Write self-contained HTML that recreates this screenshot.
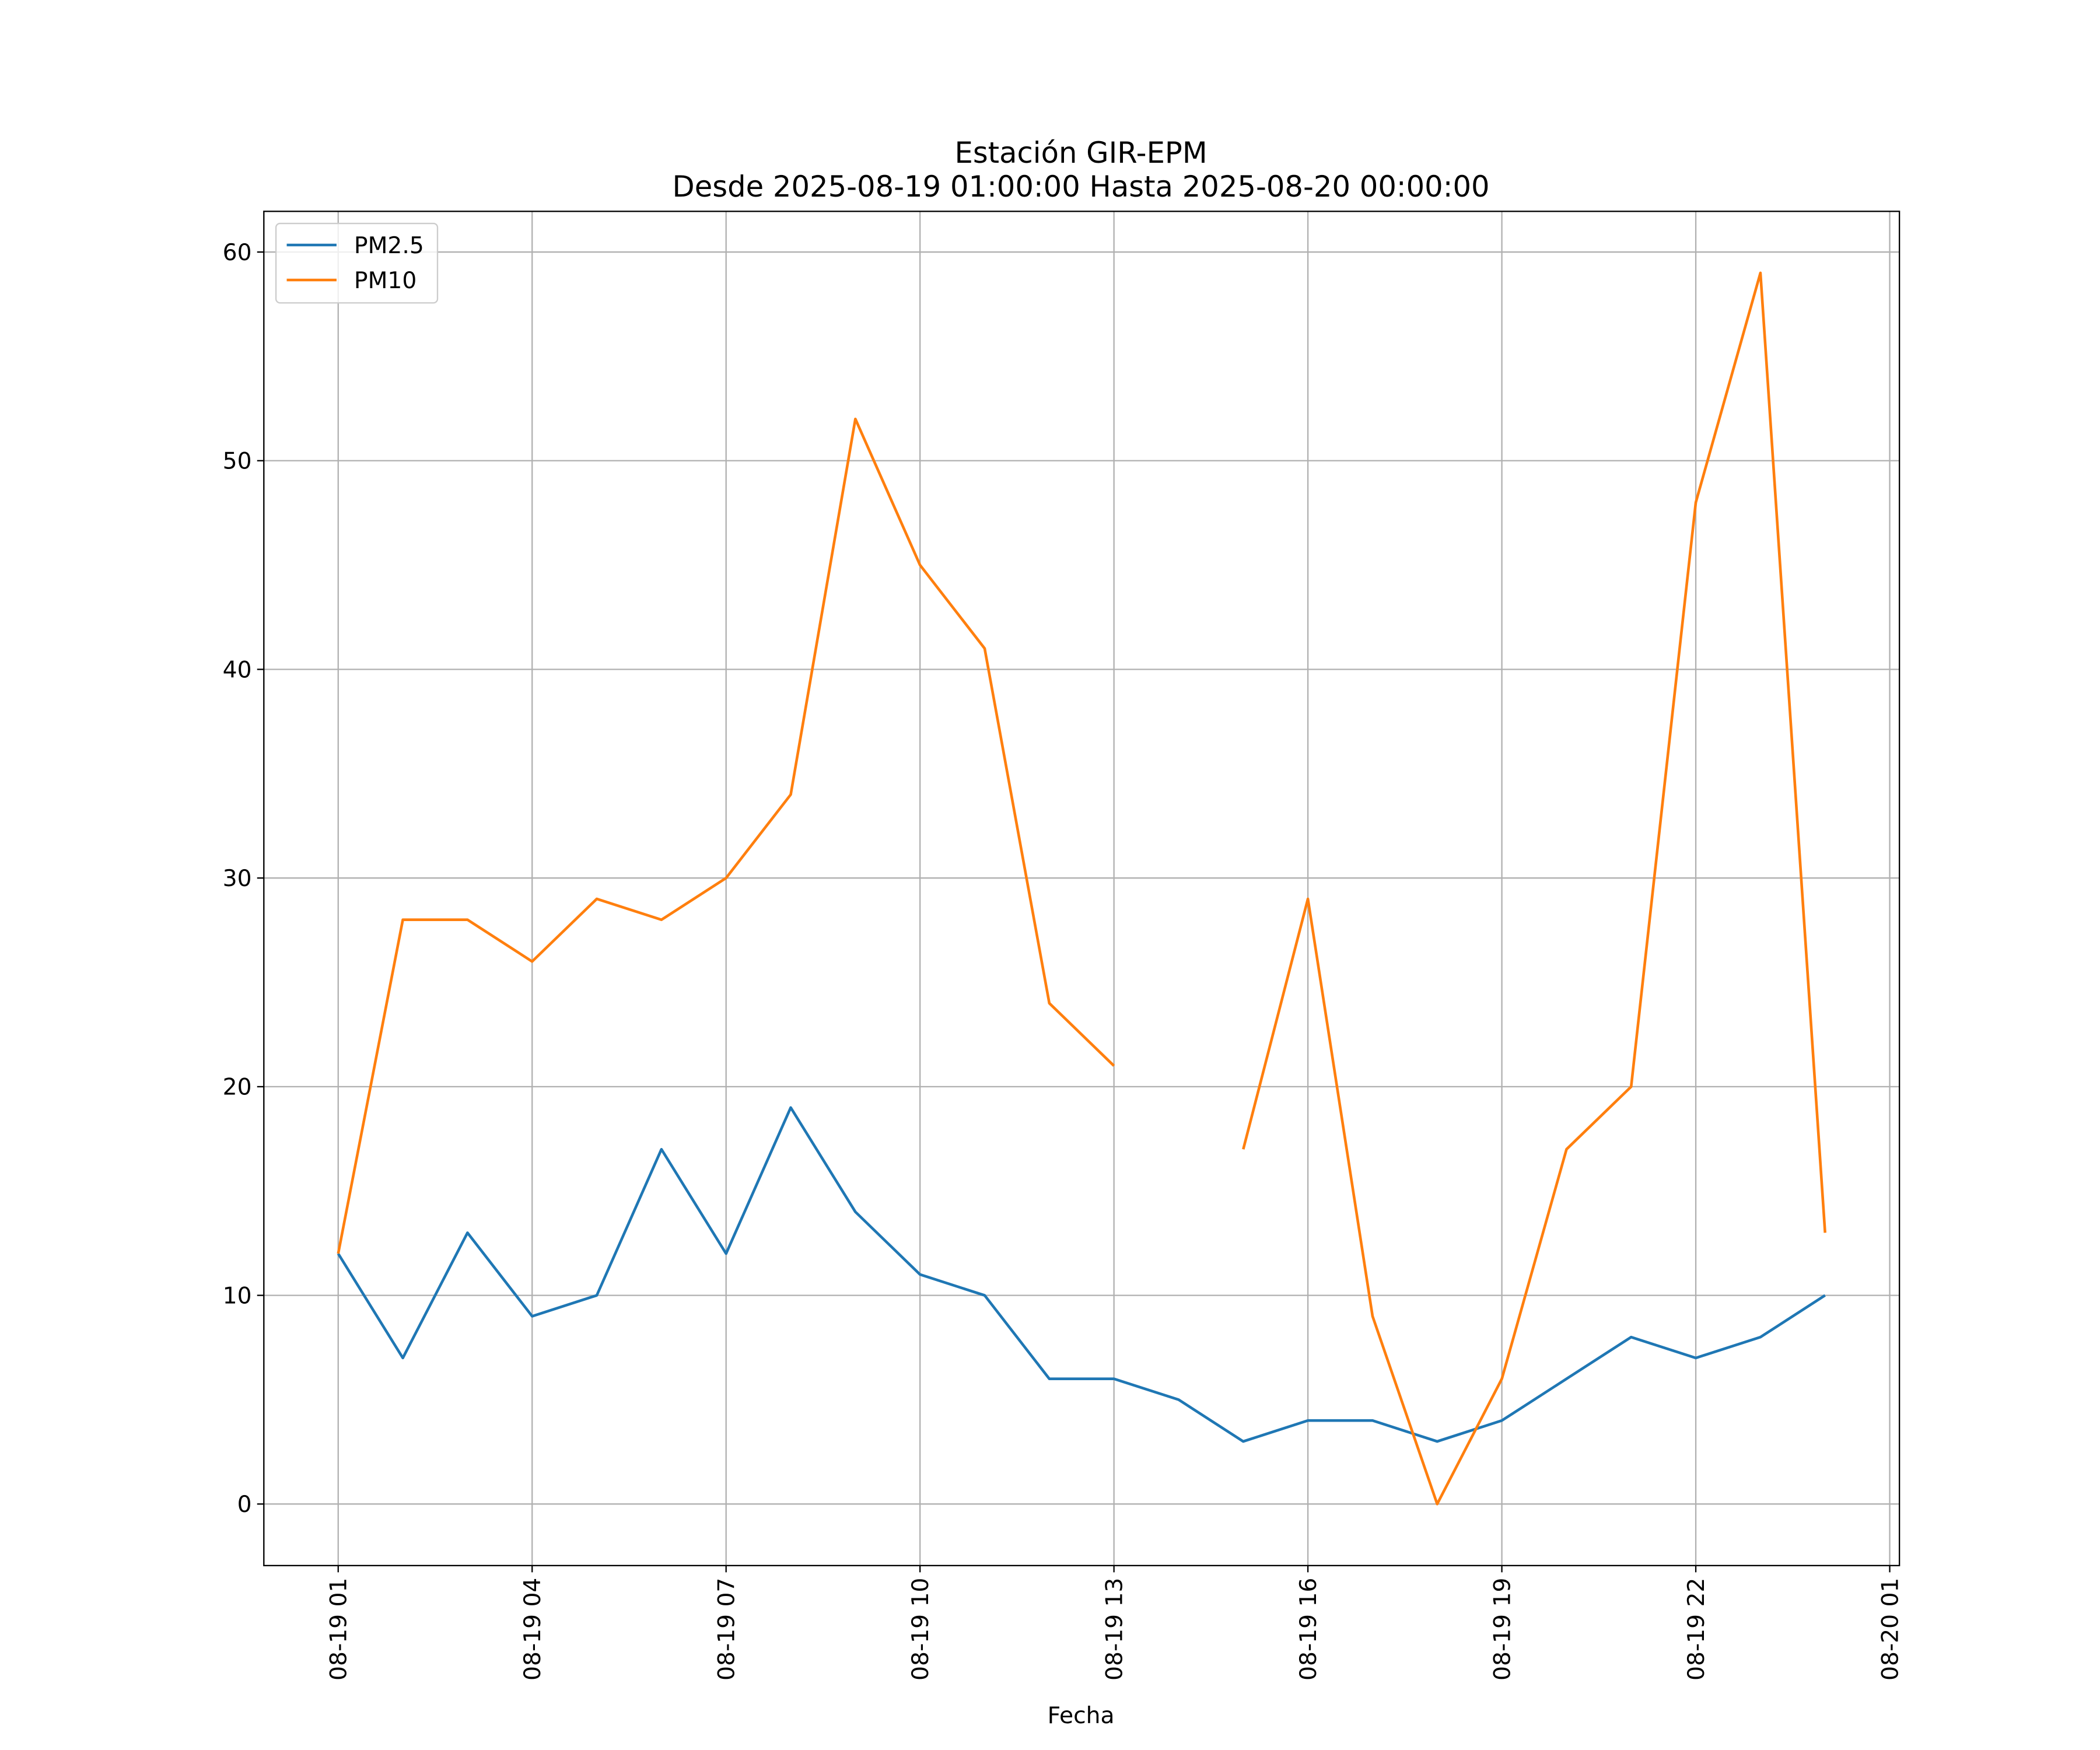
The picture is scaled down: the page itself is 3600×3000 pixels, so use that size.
<!DOCTYPE html>
<html><head><meta charset="utf-8"><style>html,body{margin:0;padding:0;background:#fff}svg{display:block}</style></head>
<body>
<svg id="chart" xmlns="http://www.w3.org/2000/svg" width="3600" height="3000" viewBox="0 0 1560 1300" font-family="DejaVu Sans, Liberation Sans, sans-serif">
<rect width="1560" height="1300" fill="#fff"/>
<g id="grid"></g>
<g id="series"></g>
<rect x="196" y="157" width="1215" height="1006" fill="none" stroke="#000" stroke-width="1"/>
<g id="ticks"></g>
<text x="803" y="121" text-anchor="middle" font-size="21.5">Estación GIR-EPM</text>
<text x="803" y="146" text-anchor="middle" font-size="21.5">Desde 2025-08-19 01:00:00 Hasta 2025-08-20 00:00:00</text>
<text x="803" y="1280" text-anchor="middle" font-size="17">Fecha</text>
<g>
<rect x="205" y="166" width="120" height="59" rx="3" fill="#fff" fill-opacity="0.8" stroke="#ccc" stroke-width="1"/>
<line x1="213" y1="182" x2="250" y2="182" stroke="#1f77b4" stroke-width="2"/>
<text x="263" y="188" font-size="17">PM2.5</text>
<line x1="213" y1="208" x2="250" y2="208" stroke="#ff7f0e" stroke-width="2"/>
<text x="263" y="214" font-size="17">PM10</text>
</g>
</svg>
<script>
const hours = [1,2,3,4,5,6,7,8,9,10,11,12,13,14,15,16,17,18,19,20,21,22,23,24];
const pm25 = [12,7,13,9,10,17,12,19,14,11,10,6,6,5,3,4,4,3,4,6,8,7,8,10];
const pm10 = [12,28,28,26,29,28,30,34,52,45,41,24,21,null,17,29,9,0,6,17,20,48,59,13];
const yTicks = [0,10,20,30,40,50,60];
const xTickHours = [1,4,7,10,13,16,19,22,25];
const xTickLabels = ["08-19 01","08-19 04","08-19 07","08-19 10","08-19 13","08-19 16","08-19 19","08-19 22","08-20 01"];

const NS = "http://www.w3.org/2000/svg";
const L=196,R=1411,T=157,B=1163;
const xMin=1-1.15, xMax=24+1.15, yMin=-2.95, yMax=61.95;
const X = h => L + (h-xMin)/(xMax-xMin)*(R-L);
const Y = v => B - (v-yMin)/(yMax-yMin)*(B-T);
function mk(tag, attrs, parent){const e=document.createElementNS(NS,tag);for(const k in attrs)e.setAttribute(k,attrs[k]);parent.appendChild(e);return e;}
const grid=document.getElementById('grid'), ticks=document.getElementById('ticks'), series=document.getElementById('series');

yTicks.forEach(v=>{
  const y=Y(v);
  const g=mk('line',{x1:L,x2:R,y1:y,y2:y,stroke:'#b0b0b0','stroke-width':1},grid);
  
  
  const t=mk('line',{x1:L-5,x2:L,y1:y,y2:y,stroke:'#000','stroke-width':1},ticks);
  
  
  const tx=mk('text',{x:L-9,y:y+6,'text-anchor':'end','font-size':17},ticks);
  tx.textContent=v;
  
  
});
xTickHours.forEach((h,i)=>{
  const x=X(h);
  const g=mk('line',{x1:x,x2:x,y1:T,y2:B,stroke:'#b0b0b0','stroke-width':1},grid);
  
  
  const t=mk('line',{x1:x,x2:x,y1:B,y2:B+5,stroke:'#000','stroke-width':1},ticks);
  
  
  const tx=mk('text',{x:0,y:0,'text-anchor':'end','font-size':17,transform:`translate(${x+6},${B+9}) rotate(-90)`},ticks);
  tx.textContent=xTickLabels[i];
  
  
});
function drawSeries(vals,color,name){
  let segs=[],cur=[];
  vals.forEach((v,i)=>{ if(v===null){ if(cur.length)segs.push(cur); cur=[]; } else cur.push(X(hours[i]).toFixed(2)+','+Y(v).toFixed(2)); });
  if(cur.length)segs.push(cur);
  segs.forEach(s=>{
    const p=mk('polyline',{points:s.join(' '),fill:'none',stroke:color,'stroke-width':2,'stroke-linejoin':'round'},series);
    
    
  });
}
drawSeries(pm25,'#1f77b4','pm25-line');
drawSeries(pm10,'#ff7f0e','pm10-line');
</script>
</body></html>
